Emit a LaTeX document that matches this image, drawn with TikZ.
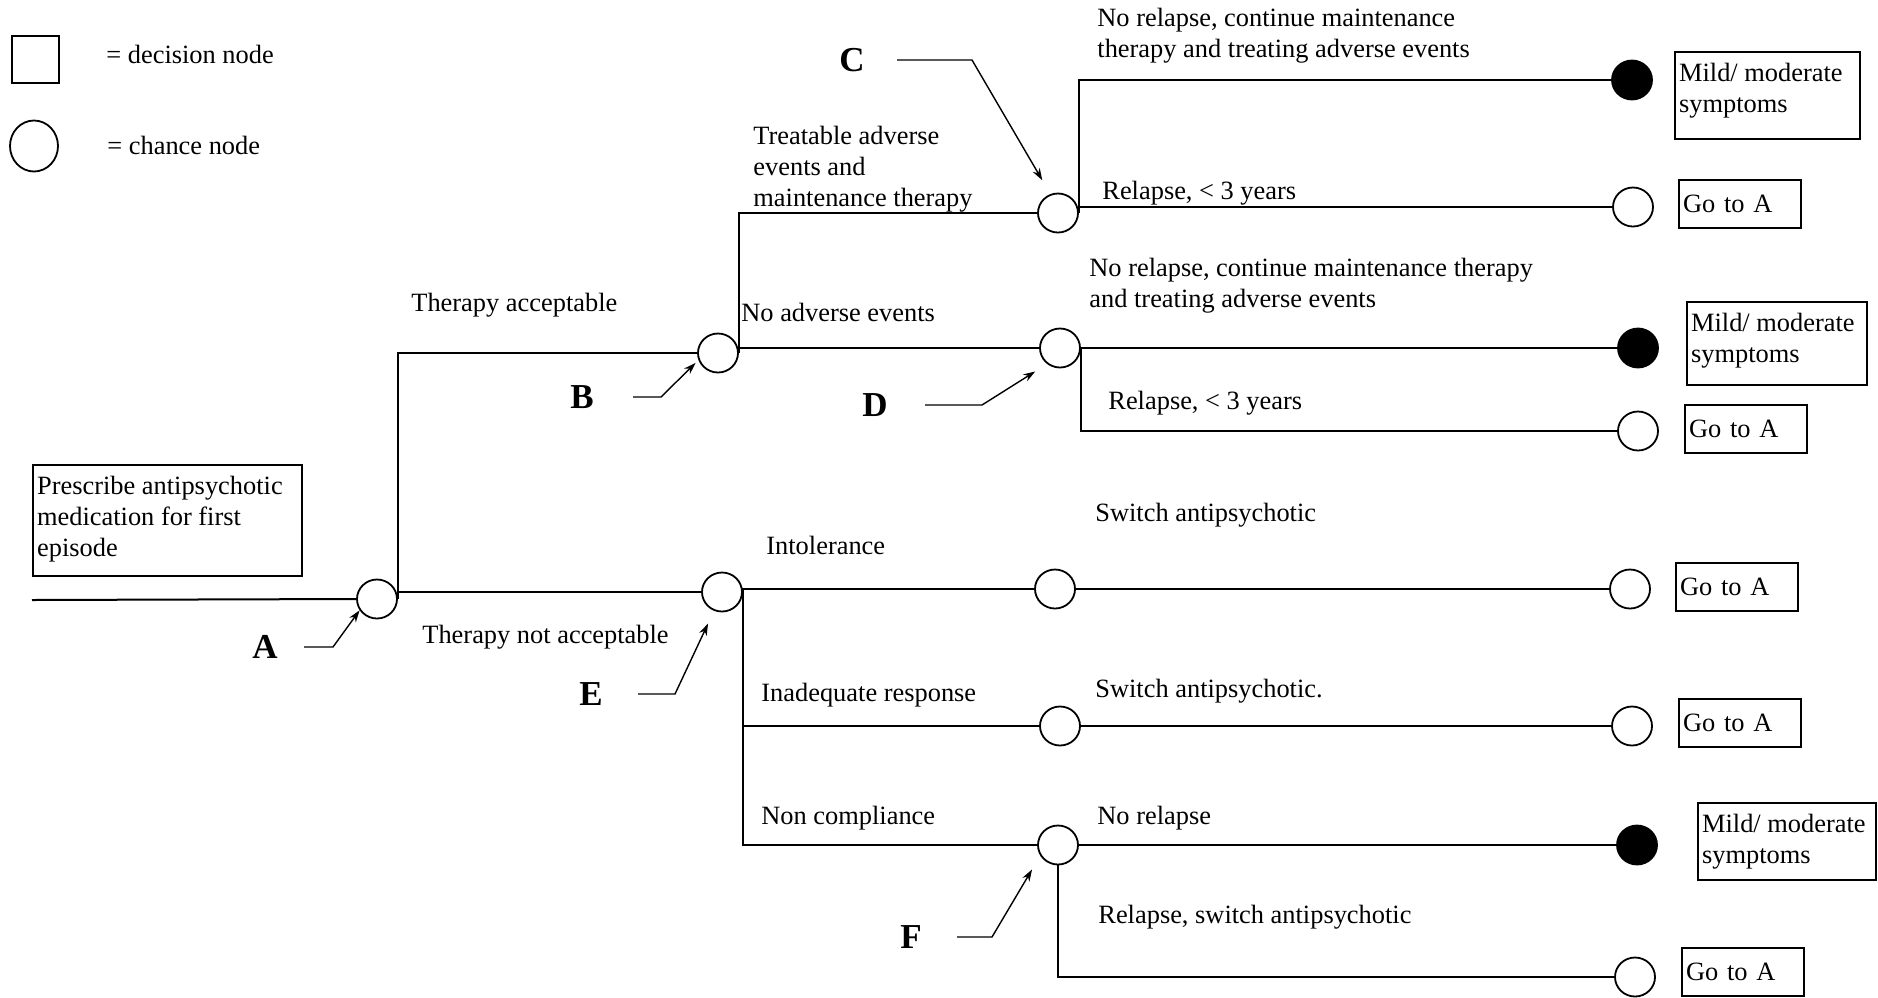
\documentclass[tikz,border=0pt]{standalone}
\usepackage{fontspec}
\setmainfont{Liberation Serif}
\usetikzlibrary{arrows.meta}
\usetikzlibrary{shapes.geometric}

\begin{document}
\begin{tikzpicture}[x=0.5pt, y=-0.5pt,
    font=\fontsize{13.2}{15.5}\selectfont,
    chance/.style={ellipse, draw, line width=0.9pt, minimum width=20pt, minimum height=19.5pt, inner sep=0pt},
    fixed/.style={chance, fill=black},
    keybox/.style={draw, line width=1pt, minimum size=23.5pt, inner sep=0pt},
    branch/.style={line width=1pt},
    ptr/.style={line width=0.7pt, -{Stealth[length=6pt, width=4pt]}},
    lbl/.style={anchor=west, inner sep=0pt, align=left},
    tag/.style={font=\fontsize{17.5}{20}\selectfont\bfseries, inner sep=0pt},
    goto/.style={draw, line width=1.1pt, minimum height=24pt, text width=57pt, inner xsep=2pt, align=left},
    outbox/.style={draw, line width=1.1pt, inner xsep=2pt, inner ysep=4pt, anchor=north west}]

    \useasboundingbox (0,0) rectangle (1878,997);

    % Key
    \node[keybox] (keyD) at (35,59) {};
    \node[lbl] (keyDt) at (106,54) {= decision node};
    \node[chance, minimum width=24pt, minimum height=25.5pt] (keyC) at (34,146) {};
    \node[lbl] (keyCt) at (107,145) {= chance node};

    % Starting decision
    \node[outbox] (start) at (32,464) {\parbox[c][47.5pt][t]{130.5pt}{\strut Prescribe antipsychotic\\medication for first\\episode}};
    \coordinate (in) at (32,600);

    % Chance nodes
    \node[chance] (cA) at (377,599) {};
    \node[chance] (cB) at (718,353) {};
    \node[chance] (cC) at (1058,213) {};
    \node[chance] (cD) at (1060,348) {};
    \node[chance] (cE) at (722,592) {};
    \node[chance] (cI) at (1055,589) {};
    \node[chance] (cR) at (1060,726) {};
    \node[chance] (cF) at (1058,845) {};

    % End nodes
    \node[fixed]  (e1) at (1632,80) {};
    \node[chance] (e2) at (1633,207) {};
    \node[fixed]  (e3) at (1638,348) {};
    \node[chance] (e4) at (1638,431) {};
    \node[chance] (e5) at (1630,589) {};
    \node[chance] (e6) at (1632,726) {};
    \node[fixed]  (e7) at (1637,845) {};
    \node[chance] (e8) at (1635,977) {};

    % Outcomes
    \node[outbox] (o1) at (1674,51) {\parbox[c][35.5pt][t]{88.5pt}{\strut Mild/ moderate\\symptoms}};
    \node[goto] (o2) at (1740,204) {Go to A};
    \node[outbox] (o3) at (1686,301) {\parbox[c][33.5pt][t]{86pt}{\strut Mild/ moderate\\symptoms}};
    \node[goto] (o4) at (1746,429) {Go to A};
    \node[goto] (o5) at (1737,587) {Go to A};
    \node[goto] (o6) at (1740,723) {Go to A};
    \node[outbox] (o7) at (1697,802) {\parbox[c][30.5pt][t]{85pt}{\strut Mild/ moderate\\symptoms}};
    \node[goto] (o8) at (1743,972) {Go to A};

    % Branches
    \draw[branch] (in) -- (cA.west);
    \draw[branch] (cA.east) |- (cB.west);
    \draw[branch] (cA.east) |- (cE.west);
    \draw[branch] (cB.east) |- (cC.west);
    \draw[branch] (cB.east) |- (cD.west);
    \draw[branch] (cC.east) |- (e1.west);
    \draw[branch] (cC.east) |- (e2.west);
    \draw[branch] (cD.east) -- (e3.west);
    \draw[branch] (cD.east) |- (e4.west);
    \draw[branch] (cE.east) |- (cI.west);
    \draw[branch] (cE.east) |- (cR.west);
    \draw[branch] (cE.east) |- (cF.west);
    \draw[branch] (cI.east) -- (e5.west);
    \draw[branch] (cR.east) -- (e6.west);
    \draw[branch] (cF.east) -- (e7.west);
    \draw[branch] (cF.south) |- (e8.west);

    % Branch texts
    \node[lbl] (t1) at (411,305) {Therapy acceptable};
    \node[lbl] (t2) at (422,637) {Therapy not acceptable};
    \node[lbl] (t3) at (753,169) {Treatable adverse\\events and\\maintenance therapy};
    \node[lbl] (t4) at (741,312) {No adverse events};
    \node[lbl] (t5) at (1097,36) {No relapse, continue maintenance\\therapy and treating adverse events};
    \node[lbl] (t6) at (1102,193) {Relapse, < 3 years};
    \node[lbl] (t7) at (1089,286) {No relapse, continue maintenance therapy\\and treating adverse events};
    \node[lbl] (t8) at (1108,403) {Relapse, < 3 years};
    \node[lbl] (t9) at (766,545) {Intolerance};
    \node[lbl] (t10) at (1095,515) {Switch antipsychotic};
    \node[lbl] (t11) at (761,695) {Inadequate response};
    \node[lbl] (t12) at (1095,691) {Switch antipsychotic.};
    \node[lbl] (t13) at (761,818) {Non compliance};
    \node[lbl] (t14) at (1097,818) {No relapse};
    \node[lbl] (t15) at (1098,917) {Relapse, switch antipsychotic};

    % Node letters and pointers
    \node[tag] (lA) at (265,647) {A};
    \node[tag] (lB) at (582,397) {B};
    \node[tag] (lC) at (852,60) {C};
    \node[tag] (lD) at (875,405) {D};
    \node[tag] (lE) at (591,694) {E};
    \node[tag] (lF) at (911,937) {F};
    \coordinate (kA) at (333,647);
    \coordinate (kB) at (661,397);
    \coordinate (kC) at (972,60);
    \coordinate (kD) at (982,405);
    \coordinate (kE) at (675,694);
    \coordinate (kF) at (992,937);
    \draw[ptr, shorten <=13pt] (lA.east) -- (kA) -- (cA.213);
    \draw[ptr, shorten <=19.5pt, shorten >=2pt] (lB.east) -- (kB) -- (cB.200);
    \draw[ptr, shorten <=16pt, shorten >=8pt] (lC.east) -- (kC) -- (cC.112);
    \draw[ptr, shorten <=18.5pt, shorten >=7pt] (lD.east) -- (kD) -- (cD.231);
    \draw[ptr, shorten <=17.5pt, shorten >=7pt] (lE.east) -- (kE) -- (cE.247);
    \draw[ptr, shorten <=17.5pt, shorten >=8pt] (lF.east) -- (kF) -- (cF.211);

\end{tikzpicture}
\end{document}
